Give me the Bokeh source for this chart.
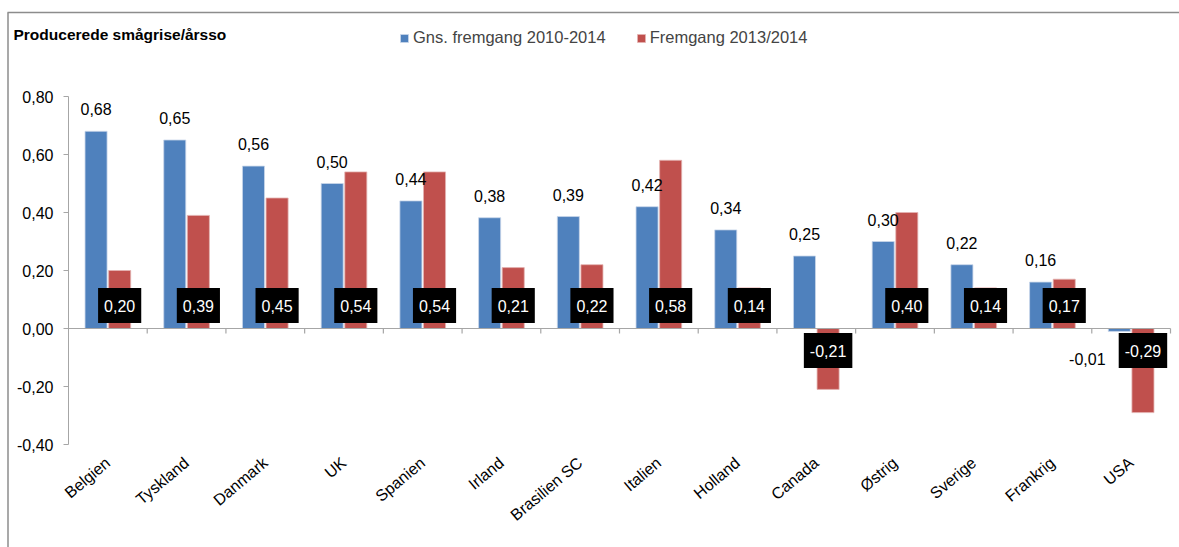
from bokeh.plotting import figure
from bokeh.models import (ColumnDataSource, Range1d, FixedTicker, Label, Legend, LegendItem)
from bokeh.core.properties import value
from bokeh.embed import file_html
from bokeh.resources import INLINE

# ---------------- data ----------------
countries = ["Belgien", "Tyskland", "Danmark", "UK", "Spanien", "Irland", "Brasilien SC",
             "Italien", "Holland", "Canada", "Østrig", "Sverige", "Frankrig", "USA"]
avg_2010_2014 = [0.68, 0.65, 0.56, 0.50, 0.44, 0.382, 0.386, 0.42, 0.34, 0.25, 0.30, 0.22, 0.16, -0.01]
chg_2013_2014 = [0.20, 0.39, 0.45, 0.54, 0.54, 0.21, 0.22, 0.58, 0.14, -0.21, 0.40, 0.14, 0.17, -0.29]
series_names = ["Gns. fremgang 2010-2014", "Fremgang 2013/2014"]
y_ticks = [-0.40, -0.20, 0.00, 0.20, 0.40, 0.60, 0.80]
title_text = "Producerede smågrise/årsso"

BLUE = "#4F81BD"
RED = "#C0504D"
GRAY = "#A6A6A6"
FRAME_GRAY = "#8C8C8C"
FONT = "Liberation Sans"

# ---------------- geometry (canvas pixels) ----------------
W, H = 1179, 547
AX_LEFT = 68          # canvas x of the value axis
AX_RIGHT = 1170       # canvas x of the last category boundary
AX_TOP = 96           # canvas y of 0.80
AX_BOT = 444          # canvas y of -0.40
YMIN, YMAX = y_ticks[0], y_ticks[-1]
n = len(countries)
px_x = (AX_RIGHT - AX_LEFT) / n
px_y = (AX_BOT - AX_TOP) / (YMAX - YMIN)

def cx(px):   # canvas x -> data x
    return (px - AX_LEFT) / px_x

def cy(py):   # canvas y -> data y
    return YMAX - (py - AX_TOP) / px_y

def fmt(v):
    return f"{v:.2f}".replace(".", ",")

idx = list(range(n))
centers = [i + 0.5 for i in idx]
off = 0.15
bw = 0.28

p = figure(width=W, height=H, output_backend="svg", toolbar_location=None,
           x_range=Range1d(cx(0), cx(W)), y_range=Range1d(cy(H), cy(0)),
           min_border_left=0, min_border_right=0, min_border_top=0, min_border_bottom=0)
p.outline_line_color = None
p.xgrid.grid_line_color = None
p.ygrid.grid_line_color = None
p.background_fill_color = "white"
p.border_fill_color = "white"

# outer chart border (left and top)
p.segment(x0=[cx(7.5), cx(7)], x1=[cx(7.5), cx(W)], y0=[cy(12), cy(12)], y1=[cy(H), cy(12)],
          line_color=FRAME_GRAY, line_width=1.5)

src = ColumnDataSource(dict(
    xb=[c - off for c in centers], xr=[c + off for c in centers],
    avg=avg_2010_2014, chg=chg_2013_2014,
))
rb = p.vbar(x="xb", top="avg", bottom=0, width=bw, source=src,
            fill_color=BLUE, line_color="#C9D7EA", line_width=0.8)
rr = p.vbar(x="xr", top="chg", bottom=0, width=bw, source=src,
            fill_color=RED, line_color="#E3B3B1", line_width=0.8)

# zero line and category boundary ticks
p.segment(x0=[0], x1=[n], y0=[0], y1=[0], line_color=GRAY, line_width=1.2)
bounds = [i + 1 for i in idx]
p.segment(x0=bounds, x1=bounds, y0=[0] * n, y1=[-5 / px_y] * n, line_color=GRAY, line_width=1.2)

# blue labels (outside end; negative label moved left of the red box)
bl_x, bl_y = [], []
for c, v in zip(centers, avg_2010_2014):
    if v >= 0:
        bl_x.append(c - off)
        bl_y.append(v + 22 / px_y)
    else:
        bl_x.append(c - off - 32 / px_x)
        bl_y.append(v - 28 / px_y)
lab_b = ColumnDataSource(dict(x=bl_x, y=bl_y, t=[fmt(v) for v in avg_2010_2014]))
p.text(x="x", y="y", text="t", source=lab_b, text_align="center", text_baseline="middle",
       text_font=value(FONT), text_font_size="16px", text_color="black")

# red labels (inside base, black box)
red_txt = [fmt(v) for v in chg_2013_2014]
char_w = {",": 4.45, "-": 5.33}
box_w = [sum(char_w.get(ch, 8.9) for ch in t) + 12 for t in red_txt]
lab_r = ColumnDataSource(dict(
    x=[c + off for c in centers],
    y=[(-22 if v < 0 else 23) / px_y for v in chg_2013_2014],
    t=red_txt, w=box_w))
p.rect(x="x", y="y", width="w", height=35, width_units="screen", height_units="screen",
       source=lab_r, fill_color="black", line_color=None)
p.text(x="x", y="y", text="t", source=lab_r, text_align="center", text_baseline="middle",
       text_font=value(FONT), text_font_size="16px", text_color="white")

# value axis (fixed at the first category edge)
yax = p.yaxis[0]
yax.fixed_location = 0
yax.bounds = (YMIN, YMAX)
yax.ticker = FixedTicker(ticks=y_ticks)
yax.major_label_overrides = {t: fmt(t) for t in y_ticks}
yax.major_label_text_font = FONT
yax.major_label_text_font_size = "16px"
yax.major_label_text_color = "black"
yax.axis_line_color = GRAY
yax.major_tick_line_color = GRAY
yax.major_tick_in = 0
yax.major_tick_out = 5
yax.minor_tick_line_color = None
yax.major_label_standoff = 10

# category axis (labels at the bottom of the value range)
xax = p.xaxis[0]
xax.fixed_location = YMIN
xax.ticker = FixedTicker(ticks=centers)
xax.major_label_overrides = {c: name for c, name in zip(centers, countries)}
xax.major_label_orientation = 0.70
xax.major_label_text_font = FONT
xax.major_label_text_font_size = "16px"
xax.major_label_text_color = "black"
xax.axis_line_color = None
xax.major_tick_line_color = None
xax.minor_tick_line_color = None
xax.major_tick_out = 0
xax.major_label_standoff = 16

# title
p.add_layout(Label(x=cx(13), y=cy(34), text=title_text,
                   text_font=FONT, text_font_size="15.5px", text_font_style="bold",
                   text_align="left", text_baseline="middle", text_color="black"))

# legend
legend = Legend(items=[LegendItem(label=series_names[0], renderers=[rb]),
                       LegendItem(label=series_names[1], renderers=[rr])],
                orientation="horizontal", location=(399, H - 47),
                glyph_width=10, glyph_height=10, label_standoff=4, spacing=30,
                padding=0, margin=0, border_line_alpha=0, background_fill_alpha=0,
                label_text_font=FONT, label_text_font_size="16.5px")
p.add_layout(legend, "center")

open("out.html", "w").write(file_html(p, INLINE))
